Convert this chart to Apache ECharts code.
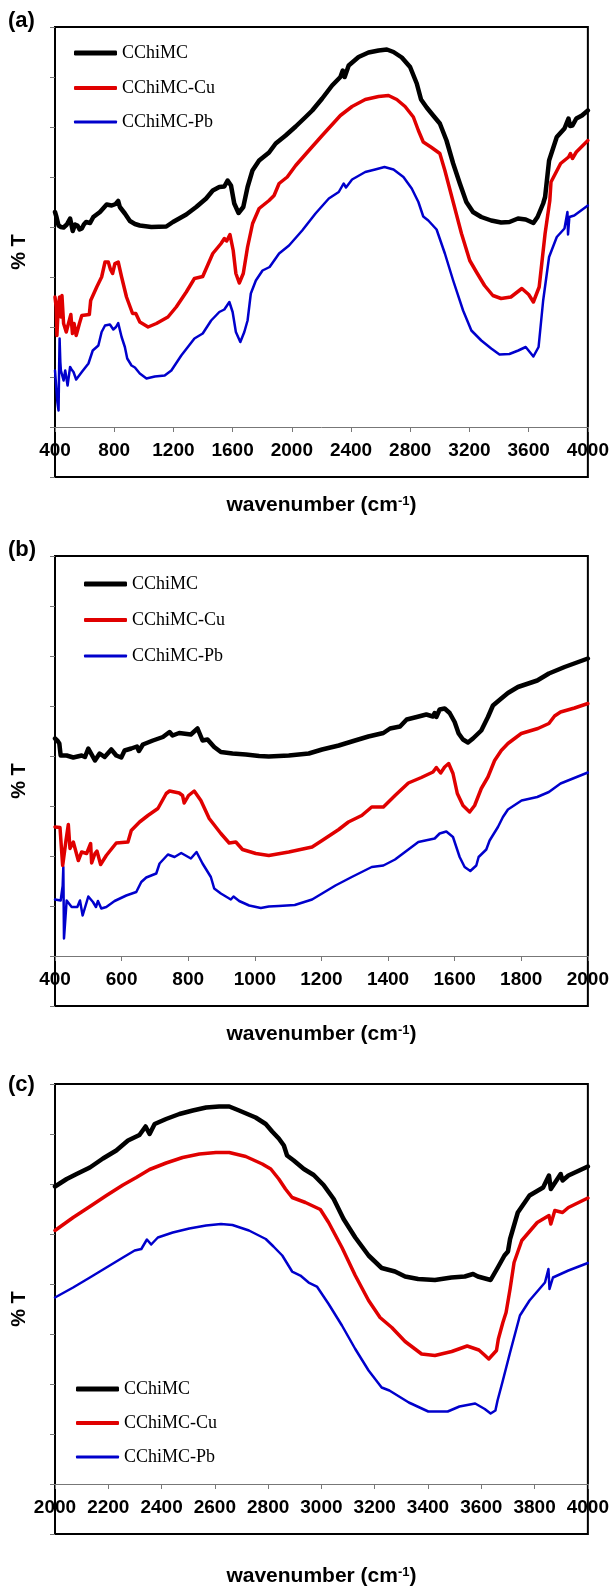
<!DOCTYPE html>
<html><head><meta charset="utf-8">
<script src="https://cdn.jsdelivr.net/npm/echarts@6/dist/echarts.min.js"></script>
<style>html,body{margin:0;padding:0;background:#fff}#c{width:612px;height:1591px}</style>
</head><body><div id="c"></div>
<script>
// ---- data ----
const seriesNames = ['CChiMC', 'CChiMC-Cu', 'CChiMC-Pb'];
const panelLabels = ['(a)', '(b)', '(c)'];
const xRanges = [[400, 4000, 400], [400, 2000, 200], [2000, 4000, 200]]; // min, max, interval
const yRange = [-10, 80, 10];

const aBlack = [[400,43],[410,42],[424,40.3],[440,40],[458,39.9],[480,40.5],[502,41.7],[520,39.2],[535,40.5],[552,40.3],[566,39.5],[581,39.7],[595,40.5],[610,41],[637,40.8],[659,42],[704,43],[749,44.5],[783,44.3],[810,44.6],[827,45.2],[838,44],[872,42.7],[906,41.2],[940,40.6],[973,40.3],[1051,40],[1152,40.1],[1197,41],[1287,42.5],[1354,44],[1421,45.7],[1466,47.3],[1510,48],[1544,48.1],[1566,49.3],[1589,48.3],[1611,44.7],[1640,42.8],[1672,44],[1701,48],[1734,51.3],[1779,53.3],[1846,54.9],[1891,56.7],[1958,58.3],[2026,60.1],[2093,62],[2138,63.3],[2205,65.7],[2272,68.3],[2328,70],[2344,71.3],[2357,70],[2384,72.3],[2451,74],[2518,74.9],[2586,75.3],[2642,75.5],[2687,75],[2743,73.9],[2799,72],[2844,68.7],[2873,65.5],[2911,63.9],[2955,62.3],[3000,60.7],[3045,57.3],[3090,52.7],[3135,48.7],[3179,45],[3224,43],[3280,42],[3347,41.3],[3414,40.9],[3470,41],[3528,41.7],[3580,41.5],[3632,40.8],[3660,42],[3698,44.7],[3711,46],[3738,53.3],[3790,58],[3842,59.7],[3869,61.7],[3880,60.2],[3896,60.3],[3922,61.7],[3960,62.3],[4000,63.3]];
const aRed = [[400,26],[408,24],[413,18.3],[422,24],[431,26],[440,22],[447,26.3],[458,20.7],[476,19],[491,20.7],[507,22.5],[518,18.7],[529,20.7],[543,18.3],[565,20.7],[581,22.3],[632,22.5],[641,25.3],[682,28],[715,30],[738,33],[760,33],[775,31.5],[789,30.7],[805,32.7],[827,33],[850,30],[883,26],[924,22.7],[946,22.7],[973,21],[1029,20],[1085,20.7],[1163,22],[1219,24],[1287,27],[1342,29.7],[1398,30.1],[1466,34.7],[1522,36.7],[1544,37.7],[1560,37.2],[1582,38.5],[1604,35.3],[1622,30.7],[1645,28.8],[1672,30.7],[1701,36],[1735,40.7],[1779,43.7],[1846,45.3],[1880,46.3],[1914,48.7],[1969,50],[2026,52.3],[2115,55.3],[2205,58.3],[2328,62.3],[2407,64.1],[2496,65.5],[2586,66.1],[2653,66.3],[2709,65.5],[2765,64.1],[2821,62],[2855,59.3],[2888,57],[2944,55.9],[3000,54.7],[3034,51.3],[3090,45],[3146,38.7],[3202,33.3],[3247,31],[3302,28.3],[3358,26.3],[3414,25.7],[3480,26],[3554,27.7],[3600,26.5],[3632,25],[3671,28],[3711,38.7],[3743,45.3],[3751,49],[3816,52.7],[3870,54],[3882,54.7],[3896,53.7],[3922,55],[4000,57.3]];
const aBlue = [[400,11.3],[408,11.3],[416,5],[424,3.3],[428,12],[431,17.7],[436,13],[440,11.3],[458,9.3],[469,11.3],[485,8.3],[502,12],[512,11.5],[525,11],[543,9.5],[581,11],[626,12.7],[655,15.3],[693,16.3],[715,19],[738,20.3],[771,20.5],[794,19.5],[812,20],[827,20.8],[850,18],[872,16],[888,13.7],[917,12.3],[940,11.9],[973,10.7],[1018,9.7],[1074,10.1],[1141,10.3],[1186,11.3],[1253,14.3],[1342,17.7],[1398,18.7],[1455,21.3],[1510,23],[1544,23.5],[1578,25],[1600,23],[1622,19],[1652,17],[1679,19],[1701,21.3],[1723,26.7],[1757,29.3],[1802,31.3],[1850,32],[1914,34.7],[1981,36.3],[2070,39.3],[2160,42.7],[2250,45.7],[2317,47],[2350,48.7],[2366,47.9],[2407,49.5],[2496,51],[2563,51.5],[2626,52],[2687,51.5],[2754,50],[2810,47.7],[2855,45],[2888,42.1],[2922,41.3],[2978,39.5],[3034,34.7],[3090,29.3],[3157,23.3],[3213,19.3],[3280,17.3],[3347,15.7],[3403,14.5],[3470,14.6],[3530,15.3],[3580,16],[3632,14.1],[3667,16],[3698,25.3],[3738,34],[3790,38],[3842,39.7],[3862,43],[3866,38.5],[3875,42],[3908,42.3],[4000,44.3]];

const bBlack = [[400,43.5],[408,43],[413,42.5],[417,40.1],[435,40.1],[455,39.7],[480,40.1],[490,39.8],[500,41.5],[520,39.1],[534,40.5],[549,39.8],[569,41.3],[584,40.1],[599,39.7],[609,41.1],[629,41.5],[646,41.9],[652,41],[664,42.3],[694,43.1],[724,43.8],[744,44.8],[753,44.1],[773,44.6],[808,44.3],[828,45.5],[843,43.1],[858,43.3],[878,41.8],[898,40.8],[933,40.5],[973,40.3],[1013,40],[1042,39.9],[1102,40.1],[1162,40.5],[1202,41.3],[1252,42.1],[1301,43.1],[1341,43.9],[1386,44.6],[1406,45.5],[1436,45.9],[1456,47.3],[1486,47.8],[1515,48.3],[1535,47.9],[1540,48.6],[1545,47.8],[1555,49.3],[1570,49.5],[1585,48.6],[1600,46.8],[1612,44.5],[1625,43.3],[1640,42.7],[1655,43.5],[1680,45.1],[1700,47.8],[1715,50.1],[1740,51.5],[1760,52.6],[1790,53.8],[1848,55.1],[1883,56.5],[1930,57.8],[2000,59.5]];
const bRed = [[400,25.8],[415,25.7],[423,18.1],[433,23.1],[440,26.3],[445,21.5],[455,22.8],[470,19.1],[480,20.8],[495,20.5],[507,22.5],[510,18.6],[520,20.5],[526,21],[537,18.3],[554,20.1],[584,22.6],[619,22.8],[629,25.1],[654,26.8],[679,28.1],[709,29.5],[734,32.5],[744,33],[773,32.6],[783,32.1],[788,30.6],[801,32.1],[818,33],[838,31.1],[863,27.5],[898,24.5],[923,22.6],[943,22.8],[963,21.3],[1003,20.5],[1042,20.1],[1102,20.8],[1172,21.8],[1202,23.1],[1252,25.3],[1281,26.8],[1321,28.1],[1351,29.8],[1386,29.8],[1421,32.1],[1461,34.6],[1500,35.7],[1535,36.8],[1545,37.7],[1558,36.6],[1570,37.8],[1582,38.5],[1595,36.5],[1608,32.5],[1625,30.1],[1645,28.8],[1660,30.1],[1680,33.5],[1700,35.8],[1720,39.1],[1740,41.1],[1760,42.5],[1800,44.5],[1850,45.5],[1883,46.5],[1900,48],[1918,48.8],[1960,49.6],[2000,50.5]];
const bBlue = [[400,11.3],[417,11.1],[423,14],[425,17.8],[427,3.5],[435,11.1],[440,11.5],[450,9.8],[467,9.8],[475,11.1],[483,8.1],[500,11.9],[514,10.8],[523,9.8],[529,11],[539,9.5],[554,9.8],[579,11],[614,12.1],[644,12.8],[659,14.8],[674,15.7],[704,16.5],[714,18.5],[739,20.3],[759,19.8],[779,20.6],[808,19.5],[825,20.8],[843,18.5],[868,15.8],[878,13.5],[898,12.5],[928,11.3],[936,11.9],[953,11],[983,10.1],[1018,9.6],[1042,9.9],[1072,10],[1120,10.2],[1172,11.3],[1202,12.5],[1242,14.1],[1291,15.8],[1321,16.8],[1351,17.8],[1386,18.1],[1421,19.3],[1451,20.8],[1491,22.8],[1540,23.5],[1555,24.5],[1575,24.9],[1595,23.8],[1615,19.8],[1630,17.8],[1647,17],[1665,18.1],[1672,19.8],[1695,21.3],[1705,23.1],[1730,25.8],[1745,27.8],[1760,29.3],[1801,31.1],[1848,31.8],[1883,32.8],[1918,34.5],[2000,36.7]];

const cBlack = [[2000,59.5],[2044,61],[2081,62],[2131,63.3],[2180,65.1],[2230,66.7],[2274,68.7],[2317,69.8],[2340,71.5],[2355,70],[2374,72],[2417,73],[2467,74],[2517,74.7],[2567,75.3],[2616,75.5],[2654,75.5],[2691,74.7],[2753,73.3],[2791,72],[2815,70.5],[2840,69.1],[2859,67.7],[2871,65.7],[2896,64.7],[2934,63],[2971,61.8],[3008,59.8],[3046,57],[3083,53],[3127,49.3],[3177,45.7],[3226,43.2],[3276,42.5],[3314,41.5],[3363,41],[3426,40.8],[3488,41.3],[3538,41.5],[3569,42],[3587,41.5],[3635,40.8],[3662,43.3],[3687,45.7],[3700,46.5],[3708,49],[3737,54.3],[3781,57.7],[3832,59.3],[3854,61.7],[3861,59],[3898,62],[3905,60.7],[3927,61.7],[4000,63.5]];
const cRed = [[2000,50.7],[2068,53.3],[2131,55.5],[2193,57.7],[2255,59.8],[2305,61.3],[2355,62.9],[2417,64.2],[2479,65.3],[2542,66],[2604,66.3],[2654,66.3],[2716,65.5],[2778,64],[2810,63],[2840,61],[2865,59],[2890,57.3],[2940,56.3],[2996,54.9],[3027,52.3],[3077,47.3],[3127,41.7],[3177,36.7],[3220,33.3],[3264,31.3],[3314,28.5],[3376,26],[3426,25.7],[3489,26.5],[3547,27.6],[3591,26.8],[3612,25.8],[3628,25],[3657,26.7],[3664,29],[3681,32.3],[3693,34.3],[3708,39],[3723,44.3],[3752,48.7],[3810,52.3],[3854,53.7],[3861,52],[3876,54.7],[3905,54.3],[3927,55.3],[4000,57.2]];
const cBlue = [[2000,37.3],[2068,39.3],[2131,41.3],[2193,43.3],[2255,45.3],[2299,46.7],[2324,47],[2345,48.9],[2361,47.9],[2386,49.3],[2442,50.3],[2504,51.1],[2567,51.7],[2623,52],[2666,51.8],[2728,50.7],[2791,49],[2820,47.5],[2853,45.7],[2890,42.5],[2921,41.7],[2952,40.3],[2983,39.5],[3027,36],[3077,31.7],[3127,27],[3177,22.7],[3226,19.3],[3255,18.7],[3328,16.3],[3401,14.5],[3474,14.5],[3518,15.5],[3577,16.1],[3613,15],[3635,14.1],[3653,14.7],[3661,16.7],[3679,20.3],[3708,26.3],[3745,33.7],[3781,36.7],[3818,39],[3839,40.3],[3852,43],[3856,39],[3869,41.3],[3898,42],[3927,42.7],[4000,44.2]];

const panels = [[aBlack, aRed, aBlue], [bBlack, bRed, bBlue], [cBlack, cRed, cBlue]];

// ---- styles / layout ----
const colors = ['#000000', '#e00000', '#0000cc'];
const lineWidths = [4.5, 3.5, 2.5];
const legendThick = [5, 4, 3];
const gridTops = [27, 556, 1084];
const xNameGaps = [68, 68, 82];
const legendLeft = [74, 84, 76];
const legendTops = [[43, 78, 112], [574, 610, 646], [1379, 1413, 1447]];
const titleTops = [10, 539, 1074];
const SANS = 'Liberation Sans, Arial, sans-serif';
const SERIF = 'Liberation Serif, Times New Roman, serif';

const option = {
  animation: false,
  backgroundColor: '#ffffff',
  title: panelLabels.map((t, i) => ({
    text: t, left: 8, top: titleTops[i], padding: 0,
    textStyle: { fontSize: 22, fontWeight: 'bold', fontFamily: SANS, color: '#000' }
  })),
  grid: gridTops.map(t => ({
    left: 55, top: t, width: 535.5, height: 450, show: true,
    borderColor: '#000', borderWidth: 2, backgroundColor: 'transparent'
  })),
  xAxis: xRanges.map((r, i) => ({
    type: 'value', gridIndex: i, min: r[0], max: r[1], interval: r[2],
    offset: -50,
    axisLine: { show: true, onZero: false, lineStyle: { color: '#777', width: 1 } },
    axisTick: { show: true, inside: false, length: 5, lineStyle: { color: '#777' } },
    axisLabel: { color: '#000', fontFamily: SANS, fontWeight: 'bold', fontSize: 19, margin: 14,
      formatter: v => String(v) },
    splitLine: { show: false },
    name: 'wavenumber (cm{sup|-1})', nameLocation: 'middle', nameGap: xNameGaps[i],
    nameTextStyle: {
      color: '#000', fontFamily: SANS, fontWeight: 'bold', fontSize: 21,
      rich: { sup: { fontSize: 13, fontWeight: 'bold', fontFamily: SANS, color: '#000', verticalAlign: 'top' } }
    }
  })),
  yAxis: xRanges.map((r, i) => ({
    type: 'value', gridIndex: i, min: yRange[0], max: yRange[1], interval: yRange[2],
    axisLine: { show: false },
    axisTick: { show: true, inside: false, length: 5, lineStyle: { color: '#777' } },
    axisLabel: { show: false },
    splitLine: { show: false },
    name: '% T', nameLocation: 'middle', nameGap: 26, nameRotate: 90,
    nameTextStyle: { color: '#000', fontFamily: SANS, fontWeight: 'bold', fontSize: 20 }
  })),
  legend: [],
  series: []
};

panels.forEach((sets, p) => {
  sets.forEach((data, k) => {
    option.series.push({
      type: 'line', name: seriesNames[k], xAxisIndex: p, yAxisIndex: p,
      data: data, symbol: 'none', showSymbol: false, silent: true,
      color: colors[k], itemStyle: { color: colors[k] },
      lineStyle: { color: colors[k], width: lineWidths[k], join: 'round', cap: 'round' },
      z: 3 - k
    });
    option.legend.push({
      left: legendLeft[p], top: legendTops[p][k], orient: 'vertical', padding: 0,
      itemWidth: 43, itemHeight: legendThick[k], icon: 'roundRect', selectedMode: false,
      data: [seriesNames[k]],
      textStyle: { fontFamily: SERIF, fontSize: 18, color: '#000', lineHeight: 20 }
    });
  });
});

const chart = echarts.init(document.getElementById('c'), null, { renderer: 'canvas' });
chart.setOption(option);
</script></body></html>
